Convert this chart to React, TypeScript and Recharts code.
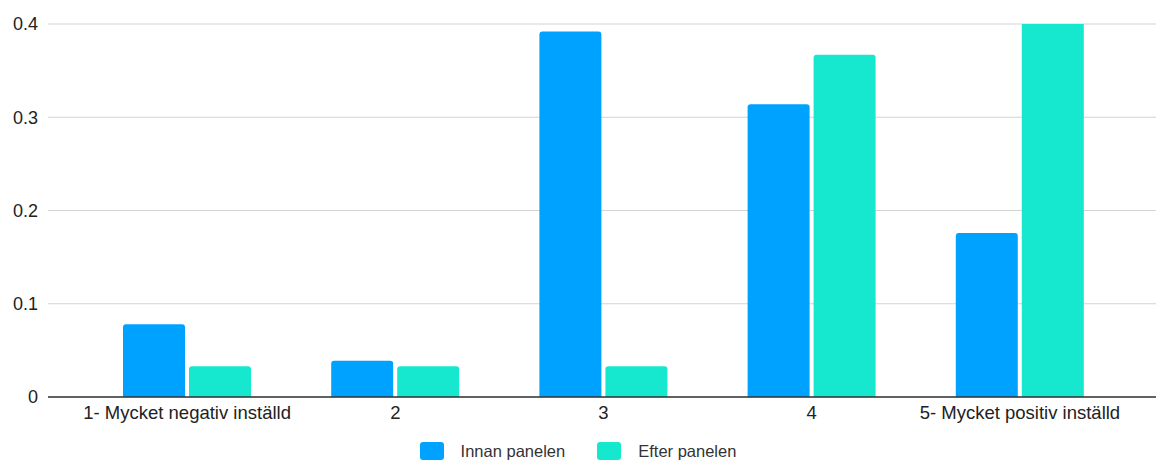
import React from 'react';
import { BarChart, Bar, XAxis, YAxis, CartesianGrid, Legend } from 'recharts';

// Svarsalternativ
const categories = ['1- Mycket negativ inställd', '2', '3', '4', '5- Mycket positiv inställd'];

// Andel per svarsalternativ
const innanPanelen = [0.078, 0.039, 0.392, 0.314, 0.176];
const efterPanelen = [0.033, 0.033, 0.033, 0.367, 0.533];

const yTicks = [0, 0.1, 0.2, 0.3, 0.4];

const COLORS = { innan: '#00A2FF', efter: '#16E7CF' };

const data = categories.map((name, i) => ({
  name,
  innan: innanPanelen[i],
  efter: efterPanelen[i],
}));

const FONT = '"Liberation Sans", Arial, Helvetica, sans-serif';

const renderLegend = () => {
  const items = [
    { label: 'Innan panelen', color: COLORS.innan },
    { label: 'Efter panelen', color: COLORS.efter },
  ];
  return (
    <div style={{ display: 'flex', justifyContent: 'center', alignItems: 'center', fontFamily: FONT, fontSize: 16.5, color: '#333', height: 18 }}>
      {items.map((item) => (
        <div key={item.label} style={{ display: 'flex', alignItems: 'center', margin: '0 16px' }}>
          <span style={{ display: 'inline-block', width: 24, height: 18, borderRadius: 3, background: item.color, marginRight: 17 }} />
          <span>{item.label}</span>
        </div>
      ))}
    </div>
  );
};

const App: React.FC = () => {
  return (
    <div style={{ position: 'absolute', left: 0, top: 0, width: 1156, height: 461, background: '#fff', overflow: 'hidden' }}>
      <BarChart
        width={1156}
        height={461}
        data={data}
        margin={{ top: 24, right: 0, bottom: 0, left: 0 }}
        barSize={62}
        barGap={4}
      >
        <CartesianGrid vertical={false} stroke="#d3d3d3" strokeWidth={1.2} />
        <XAxis
          dataKey="name"
          padding={{ left: 35, right: 32 }}
          tickLine={false}
          tickSize={0}
          tickMargin={9}
          height={30}
          axisLine={{ stroke: '#333', strokeWidth: 1.5 }}
          tick={{ fill: '#222', fontSize: 18.5, fontFamily: FONT }}
          interval={0}
        />
        <YAxis
          domain={[0, 0.4]}
          ticks={yTicks}
          allowDataOverflow
          width={48}
          axisLine={false}
          tickLine={false}
          tickSize={0}
          tickMargin={10}
          tick={{ fill: '#222', fontSize: 18, fontFamily: FONT }}
        />
        <Legend
          verticalAlign="bottom"
          height={34}
          content={renderLegend}
          wrapperStyle={{ top: 442, bottom: 'auto', left: 0, width: 1156 }}
        />
        <Bar dataKey="innan" name="Innan panelen" fill={COLORS.innan} radius={[3, 3, 0, 0]} isAnimationActive={false} />
        <Bar dataKey="efter" name="Efter panelen" fill={COLORS.efter} radius={[3, 3, 0, 0]} isAnimationActive={false} />
      </BarChart>
    </div>
  );
};

export default App;
